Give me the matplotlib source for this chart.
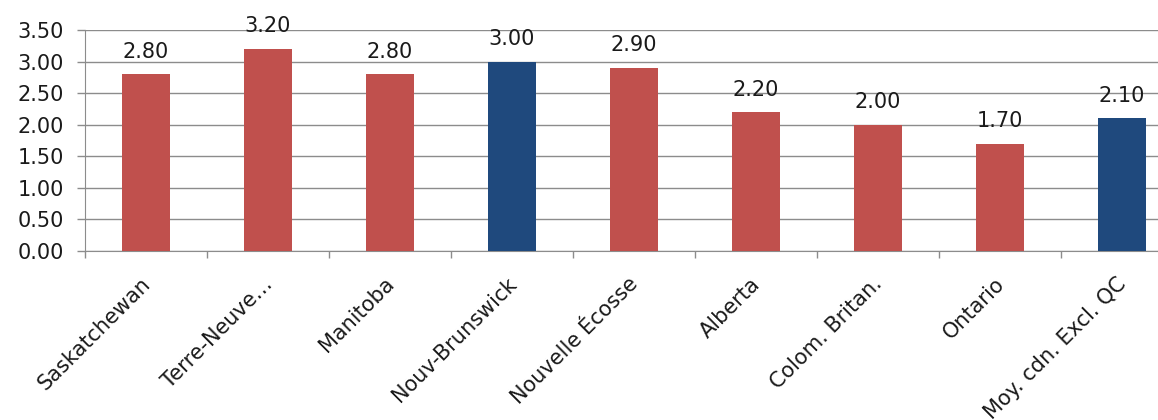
import matplotlib.pyplot as plt
import matplotlib.transforms as mtransforms
import numpy as np

plt.rcParams['font.family'] = ['DejaVu Sans']

provinces = ["Saskatchewan", "Terre-Neuve…", "Manitoba", "Nouv-Brunswick",
             "Nouvelle Écosse", "Alberta", "Colom. Britan.", "Ontario",
             "Moy. cdn. Excl. QC"]
values = [2.80, 3.20, 2.80, 3.00, 2.90, 2.20, 2.00, 1.70, 2.10]
highlight = [False, False, False, True, False, False, False, False, True]

red = "#C0504D"
blue = "#1F497D"
grid_col = "#8C8C8C"
txt_col = "#1A1A1A"

fig = plt.figure(figsize=(11.58, 4.2), dpi=100)
# axes extend past the right edge, like the cropped original
ax = fig.add_axes([85 / 1158, (420 - 251) / 420, 1098 / 1158, 221 / 420])

x = np.arange(len(values))
colors = [blue if h else red for h in highlight]
ax.bar(x, values, width=0.4, color=colors, zorder=3)

for xi, v in zip(x, values):
    ax.annotate(f"{v:.2f}", (xi, v), xytext=(0, 9), textcoords="offset points",
                ha="center", va="bottom", fontsize=15, color=txt_col)

yt = np.arange(0, 3.51, 0.5)
ax.set_xlim(-0.5, len(values) - 0.5)
ax.set_ylim(0, 3.5)
ax.set_yticks(yt)
ax.set_yticklabels([f"{t:.2f}" for t in yt], fontsize=15, color=txt_col)
ax.yaxis.grid(True, color=grid_col, linewidth=1, zorder=0)

# category labels at bar centres, tick marks between categories
ax.set_xticks(x)
ax.set_xticklabels(provinces, rotation=45, ha="right", rotation_mode="anchor",
                   fontsize=15, color=txt_col)
ax.tick_params(axis="x", length=0, pad=15)
shift = mtransforms.ScaledTranslation(-6 / 100, -2 / 100, fig.dpi_scale_trans)
for lab in ax.get_xticklabels():
    lab.set_transform(lab.get_transform() + shift)
ax.set_xticks(np.arange(-0.5, len(values), 1), minor=True)
ax.tick_params(axis="x", which="minor", length=5, color=grid_col, width=1)
ax.tick_params(axis="y", length=6, color=grid_col, width=1, pad=9)

for side in ["top", "right"]:
    ax.spines[side].set_visible(False)
for side in ["left", "bottom"]:
    ax.spines[side].set_color(grid_col)

plt.savefig("out.png", dpi=100)
